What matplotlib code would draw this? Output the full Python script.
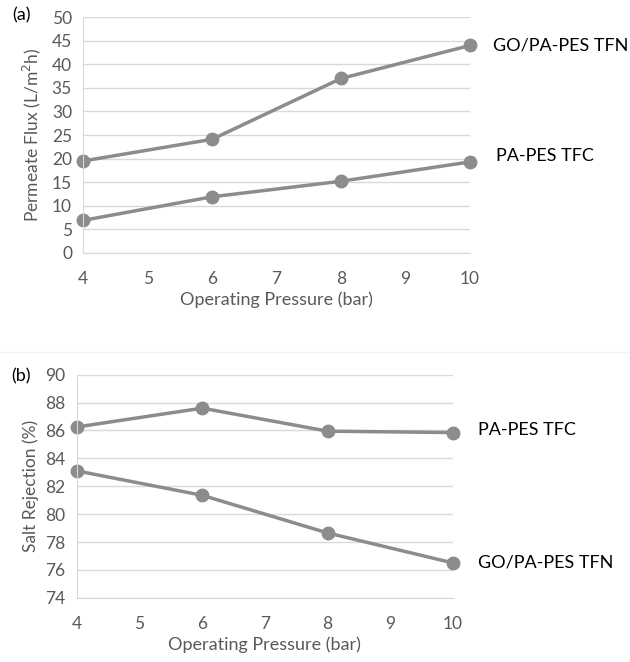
import matplotlib.pyplot as plt
from matplotlib.lines import Line2D

pressure = [4, 6, 8, 10]

flux_tfn = [19.5, 24.1, 37.0, 44.0]
flux_tfc = [6.9, 11.9, 15.2, 19.3]

rej_tfc = [86.25, 87.6, 85.95, 85.85]
rej_tfn = [83.1, 81.35, 78.65, 76.5]

LINE = "#8c8c8c"
GRID = "#d9d9d9"
TEXT = "#595959"

plt.rcParams["font.family"] = ["Lato", "DejaVu Sans"]


def style_axes(ax, ylim, yticks):
    ax.set_xlim(4, 10)
    ax.set_ylim(*ylim)
    ax.set_xticks(range(4, 11))
    ax.set_yticks(yticks)
    ax.grid(axis="y", color=GRID, linewidth=1)
    ax.set_axisbelow(True)
    for side in ("top", "right"):
        ax.spines[side].set_visible(False)
    ax.spines["left"].set_color(GRID)
    ax.spines["bottom"].set_color(GRID)
    ax.tick_params(length=0, colors=TEXT, labelsize=12.5)
    ax.tick_params(axis="x", pad=13)
    ax.tick_params(axis="y", pad=8)
    ax.set_xlabel("Operating Pressure (bar)", color=TEXT, fontsize=13, labelpad=3)


fig = plt.figure(figsize=(6.3, 6.62), dpi=100)

# (a) permeate flux
ax1 = fig.add_axes([0.132, 0.618, 0.614, 0.356])
style_axes(ax1, (0, 50), range(0, 51, 5))
ax1.plot(pressure, flux_tfn, color=LINE, lw=2.5, marker="o", ms=9, clip_on=False)
ax1.plot(pressure, flux_tfc, color=LINE, lw=2.5, marker="o", ms=9, clip_on=False)
ax1.set_ylabel("Permeate Flux (L/m$^2$h)", color=TEXT, fontsize=12.5, labelpad=6)
ax1.text(10.35, flux_tfn[-1], "GO/PA-PES TFN", fontsize=13, va="center")
ax1.text(10.4, flux_tfc[-1] + 1.2, "PA-PES TFC", fontsize=13, va="center")
fig.text(0.02, 0.977, "(a)", fontsize=13, va="center")

# (b) salt rejection
ax2 = fig.add_axes([0.122, 0.097, 0.597, 0.337])
style_axes(ax2, (74, 90), range(74, 91, 2))
ax2.plot(pressure, rej_tfc, color=LINE, lw=2.5, marker="o", ms=9, clip_on=False)
ax2.plot(pressure, rej_tfn, color=LINE, lw=2.5, marker="o", ms=9, clip_on=False)
ax2.set_ylabel("Salt Rejection (%)", color=TEXT, fontsize=12.5, labelpad=5)
ax2.text(10.4, rej_tfc[-1] + 0.2, "PA-PES TFC", fontsize=13, va="center")
ax2.text(10.4, rej_tfn[-1], "GO/PA-PES TFN", fontsize=13, va="center")
fig.text(0.018, 0.432, "(b)", fontsize=13, va="center")

# faint separator between panels
fig.add_artist(Line2D([0, 1], [0.468, 0.468], color="#f2f2f2", lw=1))

fig.savefig("out.png", dpi=100)
